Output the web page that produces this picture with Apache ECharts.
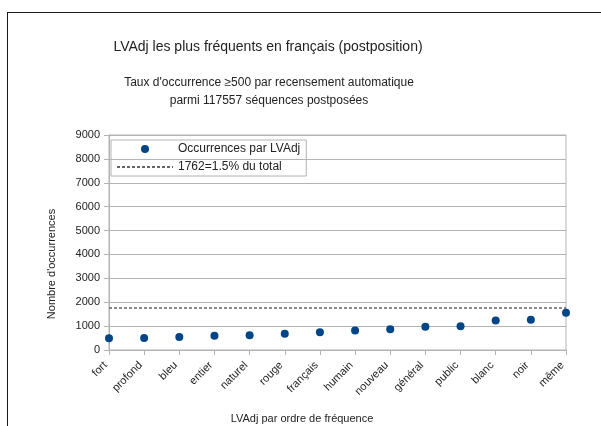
<!DOCTYPE html>
<html>
<head>
<meta charset="utf-8">
<script src="https://cdn.jsdelivr.net/npm/echarts@6/dist/echarts.min.js"></script>
<style>
  html, body { margin: 0; padding: 0; background: #fff; }
  #frame {
    position: absolute; left: 7px; top: 12px; right: 0; bottom: 0;
    border-top: 1px solid #1a1a1a; border-left: 1px solid #1a1a1a;
  }
  #chart { position: absolute; left: 0; top: 0; width: 601px; height: 426px; }
</style>
</head>
<body>
<div id="frame"></div>
<div id="chart"></div>
<script>
const categories = ['fort', 'profond', 'bleu', 'entier', 'naturel', 'rouge', 'français',
  'humain', 'nouveau', 'général', 'public', 'blanc', 'noir', 'même']
const occurrences = [495, 500, 540, 600, 615, 685, 740, 820, 865, 975, 990, 1240, 1270, 1560]
const threshold = 1762
const yTicks = { min: 0, max: 9000, interval: 1000 }

const font = 'Liberation Sans'
const chart = echarts.init(document.getElementById('chart'))

const option = {
  animation: false,
  title: [
    {
      text: 'LVAdj les plus fréquents en français (postposition)',
      left: 268, top: 40, textAlign: 'center', padding: 0,
      textStyle: { fontFamily: font, fontSize: 14, fontWeight: 'normal', color: '#222' }
    },
    {
      text: "Taux d'occurrence \u2265500 par recensement automatique\nparmi 117557 séquences postposées",
      left: 269, top: 74, textAlign: 'center', padding: 0,
      textStyle: { fontFamily: font, fontSize: 12, fontWeight: 'normal', color: '#222', lineHeight: 18 }
    },
    {
      text: 'LVAdj par ordre de fréquence',
      left: 302, top: 413, textAlign: 'center', padding: 0,
      textStyle: { fontFamily: font, fontSize: 11, fontWeight: 'normal', color: '#222' }
    }
  ],
  graphic: [
    {
      type: 'text', x: 52, y: 264, rotation: Math.PI / 2,
      style: {
        text: "Nombre d'occurrences", fontFamily: font, fontSize: 11, fill: '#222',
        textAlign: 'center', textVerticalAlign: 'middle'
      }
    }
  ],
  legend: {
    orient: 'vertical',
    left: 111, top: 140,
    padding: [3, 6, 3, 5],
    itemWidth: 56, itemHeight: 8, itemGap: 6,
    borderColor: '#b3b3b3', borderWidth: 1,
    textStyle: { fontFamily: font, fontSize: 12, color: '#222' },
    data: [
      { name: 'Occurrences par LVAdj', icon: 'circle' },
      { name: '1762=1.5% du total', itemStyle: { color: 'rgba(0,0,0,0)', borderWidth: 0 } }
    ]
  },
  grid: {
    left: 109, right: 35, top: 135, bottom: 76,
    show: true, borderColor: '#b3b3b3', borderWidth: 1
  },
  xAxis: {
    type: 'category',
    data: categories,
    boundaryGap: false,
    axisLine: { lineStyle: { color: '#b3b3b3' } },
    axisTick: { show: true, length: 5, alignWithLabel: true, lineStyle: { color: '#b3b3b3' } },
    axisLabel: {
      rotate: 45, interval: 0, margin: 10, padding: [0, 5, 0, 0],
      fontFamily: font, fontSize: 11, color: '#222'
    },
    splitLine: { show: false }
  },
  yAxis: {
    type: 'value',
    min: yTicks.min, max: yTicks.max, interval: yTicks.interval,
    axisLine: { show: true, lineStyle: { color: '#b3b3b3' } },
    axisTick: { show: true, length: 5, lineStyle: { color: '#b3b3b3' } },
    axisLabel: { margin: 9, fontFamily: font, fontSize: 11, color: '#222', formatter: v => String(v) },
    splitLine: { lineStyle: { color: '#b3b3b3' } }
  },
  series: [
    {
      name: 'Occurrences par LVAdj',
      type: 'scatter',
      data: occurrences,
      symbol: 'circle',
      symbolSize: 8,
      itemStyle: { color: '#004586', opacity: 1 },
      z: 5
    },
    {
      name: '1762=1.5% du total',
      type: 'line',
      data: [],
      symbol: 'none',
      lineStyle: { color: '#666', width: 1.5, type: [3, 2] },
      itemStyle: { color: '#666' },
      markLine: {
        silent: true,
        symbol: 'none',
        label: { show: false },
        lineStyle: { color: '#666', width: 1.5, type: [3, 2] },
        data: [{ yAxis: threshold }]
      }
    }
  ]
}

chart.setOption(option)
</script>
</body>
</html>
